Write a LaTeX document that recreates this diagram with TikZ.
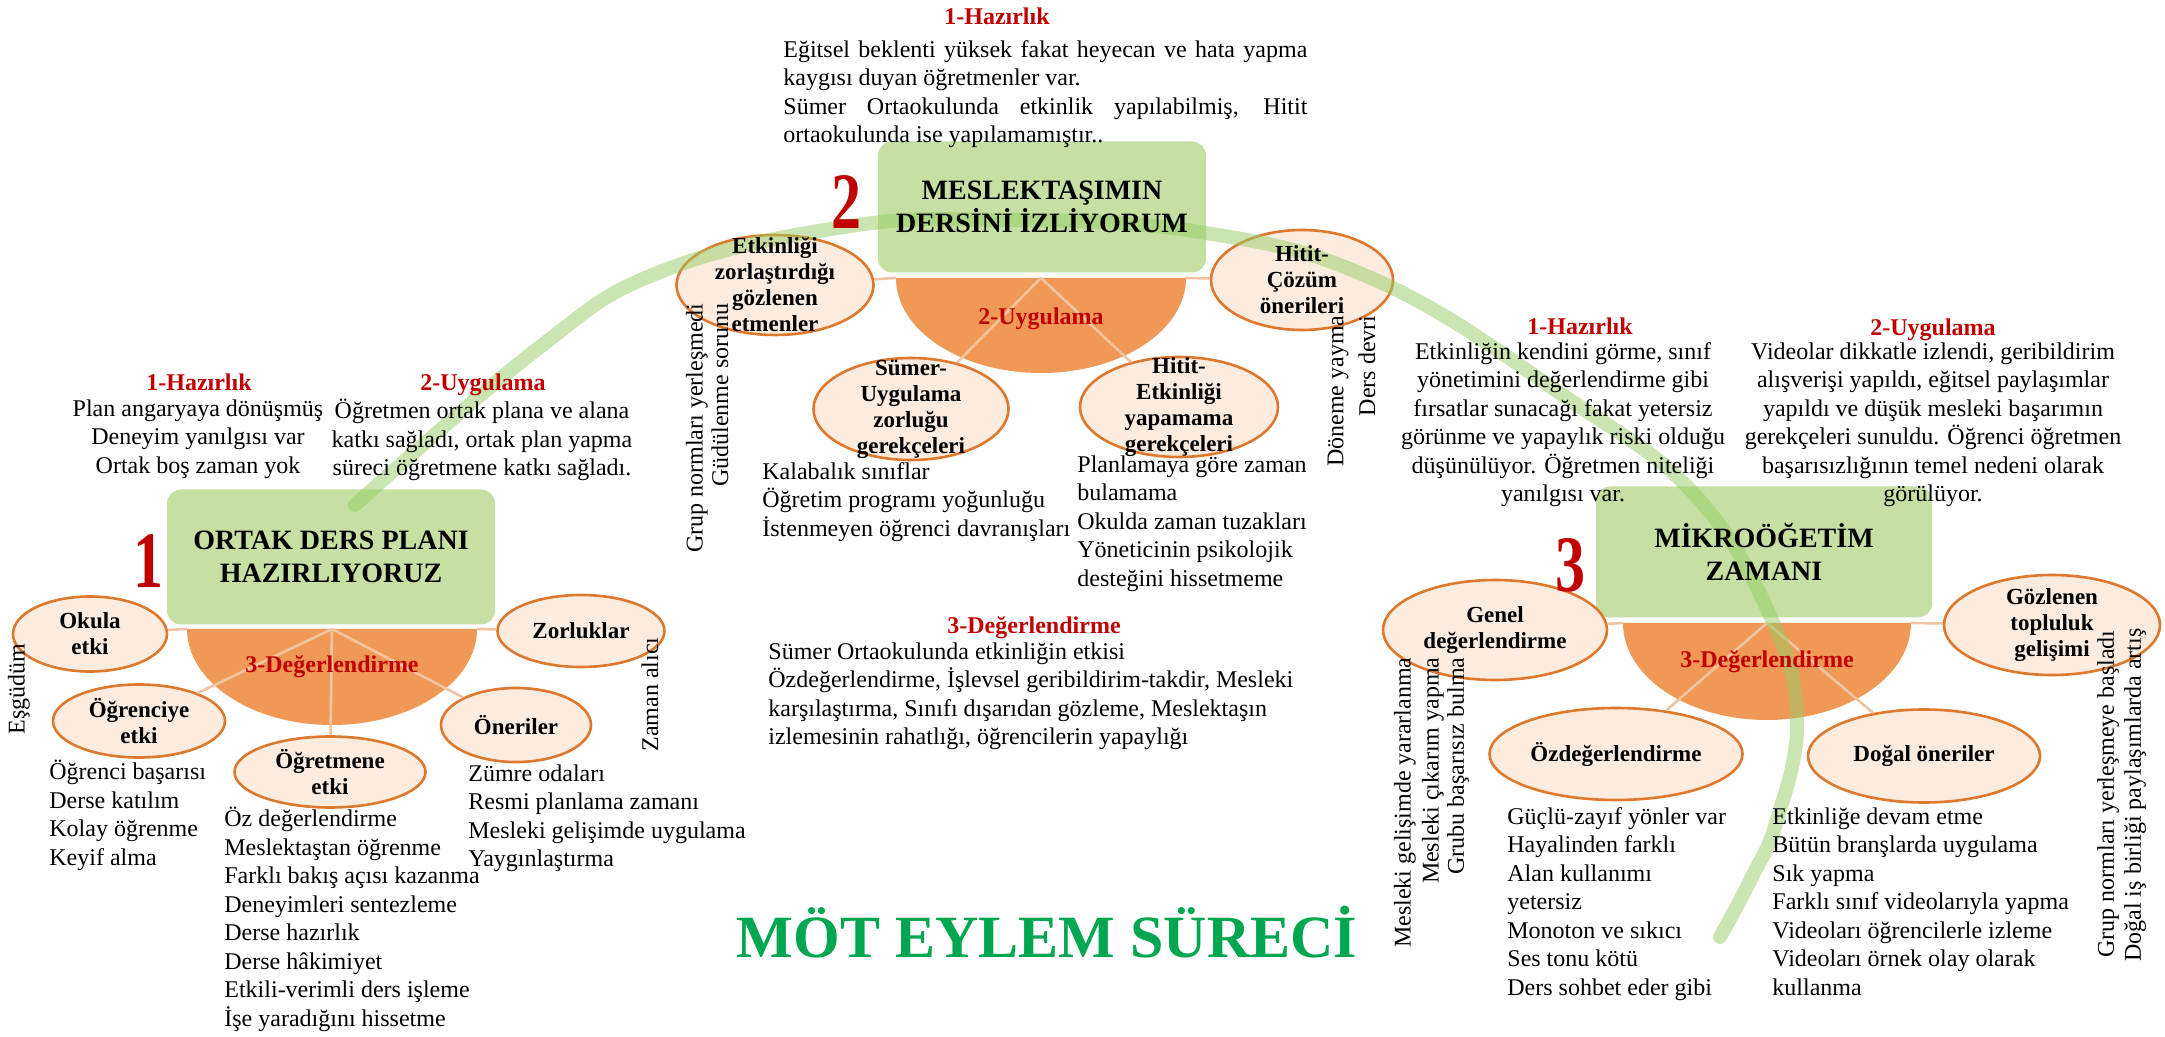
\documentclass[tikz,border=0pt]{standalone}
\usepackage{fontspec}
\setmainfont{Liberation Serif}
\usepackage{graphicx}
\usepackage{xcolor}
\usetikzlibrary{positioning,shapes.geometric}

\definecolor{boxgreen}{RGB}{198,224,164}
\definecolor{diskfill}{RGB}{240,152,86}
\definecolor{ovalfill}{RGB}{252,236,224}
\definecolor{ovalline}{RGB}{221,120,45}
\definecolor{spokecol}{RGB}{240,196,160}
\definecolor{hdrred}{RGB}{192,0,0}
\definecolor{titlegreen}{RGB}{0,166,80}
\definecolor{bandgreen}{RGB}{150,205,100}

\begin{document}
\begin{tikzpicture}[
  x=0.5pt, y=-0.5pt,
  stagebox/.style={fill=boxgreen, rounded corners=7pt, inner sep=0pt},
  boxtext/.style={font=\fontsize{14}{16.5}\selectfont\bfseries, align=center},
  stagenum/.style={text=hdrred, font=\fontsize{40}{40}\selectfont\bfseries, inner sep=0pt},
  oval/.style={ellipse, draw=ovalline, line width=1.3pt, fill=ovalfill, inner sep=0pt},
  ovaltext/.style={font=\fontsize{11.5}{13}\selectfont\bfseries, align=center, inner sep=0pt},
  spoke/.style={draw=spokecol, line width=1.3pt},
  hdr/.style={text=hdrred, font=\fontsize{12}{14}\selectfont\bfseries, anchor=base, inner sep=0pt},
  bodytext/.style={font=\fontsize{12}{14.25}\selectfont, inner sep=0pt, execute at begin node=\strut},
  leftlist/.style={bodytext, align=left, anchor=north west},
  midlist/.style={bodytext, align=center, anchor=north},
  sidenote/.style={font=\fontsize{12}{14}\selectfont, rotate=90, anchor=east, inner sep=0pt},
  band/.style={draw=bandgreen, line width=7pt, opacity=0.5, line cap=round}]
\fill[white] (0,0) rectangle (2165,1037);
\useasboundingbox (0,0) rectangle (2165,1037);

% --- stage 1 shapes
\node[stagebox, minimum width=164pt, minimum height=67.5pt] (plan) at (331,557) {};
\fill[diskfill] (187,629) arc[start angle=180, end angle=0, x radius=145, y radius=96] -- cycle;
\coordinate (d1top) at (332,629);
\coordinate (d1left) at (187,629);
\coordinate (d1right) at (477,629);
\node[oval, minimum width=77pt, minimum height=37.5pt] (okula) at (90,634) {};
\node[oval, minimum width=83.5pt, minimum height=36pt] (zorluk) at (581,631) {};
\node[oval, minimum width=86pt, minimum height=36.5pt] (ogrenciye) at (139,721) {};
\node[oval, minimum width=95.5pt, minimum height=35.5pt] (ogretmene) at (330,772) {};
\node[oval, minimum width=75pt, minimum height=37pt] (oneri) at (516,725) {};

% --- stage 2 shapes
\node[stagebox, minimum width=164pt, minimum height=65.5pt] (izle) at (1042,207) {};
\fill[diskfill] (896,278) arc[start angle=180, end angle=0, x radius=145, y radius=95] -- cycle;
\coordinate (d2top) at (1041,278);
\coordinate (d2left) at (896,278);
\coordinate (d2right) at (1186,278);
\node[oval, minimum width=98.5pt, minimum height=50pt] (etken) at (775,285) {};
\node[oval, minimum width=91pt, minimum height=50pt] (hcozum) at (1302,280) {};
\node[oval, minimum width=97.5pt, minimum height=51pt] (sumer) at (911,409) {};
\node[oval, minimum width=99pt, minimum height=50pt] (hitit) at (1179,407) {};

% --- stage 3 shapes
\node[stagebox, minimum width=168pt, minimum height=65.5pt] (mikro) at (1764,552) {};
\fill[diskfill] (1623,623) arc[start angle=180, end angle=0, x radius=144, y radius=97] -- cycle;
\coordinate (d3top) at (1767,623);
\coordinate (d3left) at (1623,623);
\coordinate (d3right) at (1911,623);
\node[oval, minimum width=112pt, minimum height=50pt] (genel) at (1495,630) {};
\node[oval, minimum width=108pt, minimum height=50pt] (gozlenen) at (2052,625) {};
\node[oval, minimum width=126.5pt, minimum height=46pt] (ozdeg) at (1616,754) {};
\node[oval, minimum width=116pt, minimum height=46.5pt] (dogal) at (1924,756) {};

% --- spokes
\draw[spoke] (d1left) -- (okula);
\draw[spoke] (d1right) -- (zorluk);
\draw[spoke] (d1top) -- (ogrenciye);
\draw[spoke] (d1top) -- (ogretmene);
\draw[spoke] (d1top) -- (oneri);
\draw[spoke] (d2left) -- (etken);
\draw[spoke] (d2right) -- (hcozum);
\draw[spoke] (d2top) -- (sumer);
\draw[spoke] (d2top) -- (hitit);
\draw[spoke] (d3left) -- (genel);
\draw[spoke] (d3right) -- (gozlenen);
\draw[spoke] (d3top) -- (ozdeg);
\draw[spoke] (d3top) -- (dogal);

% --- the process arc
\draw[band] plot[smooth, tension=0.7] coordinates {(355,505) (536,350) (660,272) (844,227) (1000,220) (1200,232) (1380,282) (1570,400) (1695,495) (1772,620) (1797,720) (1777,820) (1752,877) (1720,937)};

% --- stage 1 texts
\node[boxtext] at (plan) {ORTAK DERS PLANI\\HAZIRLIYORUZ};
\node[stagenum] (num1) at (148,561) {\scalebox{0.75}[1]{1}};
\node[hdr] at (332,673) {3-Değerlendirme};
\node[ovaltext] at (okula) {Okula\\etki};
\node[ovaltext] at (zorluk) {Zorluklar};
\node[ovaltext] at (ogrenciye) {Öğrenciye\\etki};
\node[ovaltext] at (ogretmene) {Öğretmene\\etki};
\node[ovaltext] at (oneri) {Öneriler};
\node[hdr] at (199,391) {1-Hazırlık};
\node[midlist] (hz1) at (198,399) {Plan angaryaya dönüşmüş\\Deneyim yanılgısı var\\Ortak boş zaman yok};
\node[hdr] at (483,391) {2-Uygulama};
\node[midlist] (uy1) at (482,399) {Öğretmen ortak plana ve alana\\katkı sağladı, ortak plan yapma\\süreci öğretmene katkı sağladı.};
\node[leftlist] (ogrlist) at (49,760) {Öğrenci başarısı\\Derse katılım\\Kolay öğrenme\\Keyif alma};
\node[leftlist] (ogtlist) at (224,807) {Öz değerlendirme\\Meslektaştan öğrenme\\Farklı bakış açısı kazanma\\Deneyimleri sentezleme\\Derse hazırlık\\Derse hâkimiyet\\Etkili-verimli ders işleme\\İşe yaradığını hissetme};
\node[leftlist] (onlist) at (468,764) {Zümre odaları\\Resmi planlama zamanı\\Mesleki gelişimde uygulama\\Yaygınlaştırma};
\node[sidenote] at (19,643) {Eşgüdüm};
\node[sidenote] at (650,637) {Zaman alıcı};

% --- stage 2 texts
\node[boxtext] at (izle) {MESLEKTAŞIMIN\\DERSİNİ İZLİYORUM};
\node[stagenum] (num2) at (846,202) {\scalebox{0.75}[1]{2}};
\node[hdr] at (1041,325) {2-Uygulama};
\node[ovaltext] at (etken) {Etkinliği\\zorlaştırdığı\\gözlenen\\etmenler};
\node[ovaltext] at (hcozum) {Hitit-\\Çözüm\\önerileri};
\node[ovaltext] at (sumer) {Sümer-\\Uygulama\\zorluğu\\gerekçeleri};
\node[ovaltext] at (hitit) {Hitit-\\Etkinliği\\yapamama\\gerekçeleri};
\node[hdr] at (997,25) {1-Hazırlık};
\node[bodytext, text width=262pt, align=justify, anchor=north west] (hz2) at (783,37) {Eğitsel beklenti yüksek fakat heyecan ve hata yapma\linebreak kaygısı duyan öğretmenler var.\\Sümer Ortaokulunda etkinlik yapılabilmiş, Hitit\linebreak ortaokulunda ise yapılamamıştır..};
\node[leftlist] (smlist) at (762,462) {Kalabalık sınıflar\\Öğretim programı yoğunluğu\\İstenmeyen öğrenci davranışları};
\node[leftlist] (htlist) at (1077,455) {Planlamaya göre zaman\\bulamama\\Okulda zaman tuzakları\\Yöneticinin psikolojik\\desteğini hissetmeme};
\node[hdr] at (1034,633) {3-Değerlendirme};
\node[leftlist] (de2) at (768,642) {Sümer Ortaokulunda etkinliğin etkisi\\Özdeğerlendirme, İşlevsel geribildirim-takdir, Mesleki\\karşılaştırma, Sınıfı dışarıdan gözleme, Meslektaşın\\izlemesinin rahatlığı, öğrencilerin yapaylığı};
\node[sidenote] at (697,303) {Grup normları yerleşmedi};
\node[sidenote] at (720,303) {Güdülenme sorunu};
\node[sidenote] at (1338,315) {Döneme yayma};
\node[sidenote] at (1367,315) {Ders devri};

% --- stage 3 texts
\node[boxtext] at (mikro) {MİKROÖĞETİM\\ZAMANI};
\node[stagenum] (num3) at (1570,565) {\scalebox{0.75}[1]{3}};
\node[hdr] at (1767,668) {3-Değerlendirme};
\node[ovaltext] at (genel) {Genel\\değerlendirme};
\node[ovaltext] at (gozlenen) {Gözlenen\\topluluk\\gelişimi};
\node[ovaltext] at (ozdeg) {Özdeğerlendirme};
\node[ovaltext] at (dogal) {Doğal öneriler};
\node[hdr] at (1580,335) {1-Hazırlık};
\node[midlist] (hz3) at (1563,342) {Etkinliğin kendini görme, sınıf\\yönetimini değerlendirme gibi\\fırsatlar sunacağı fakat yetersiz\\görünme ve yapaylık riski olduğu\\düşünülüyor. Öğretmen niteliği\\yanılgısı var.};
\node[hdr] at (1933,336) {2-Uygulama};
\node[midlist] (uy3) at (1933,342) {Videolar dikkatle izlendi, geribildirim\\alışverişi yapıldı, eğitsel paylaşımlar\\yapıldı ve düşük mesleki başarımın\\gerekçeleri sunuldu. Öğrenci öğretmen\\başarısızlığının temel nedeni olarak\\görülüyor.};
\node[leftlist] (ozlist) at (1507,807) {Güçlü-zayıf yönler var\\Hayalinden farklı\\Alan kullanımı\\yetersiz\\Monoton ve sıkıcı\\Ses tonu kötü\\Ders sohbet eder gibi};
\node[leftlist] (dglist) at (1772,807) {Etkinliğe devam etme\\Bütün branşlarda uygulama\\Sık yapma\\Farklı sınıf videolarıyla yapma\\Videoları öğrencilerle izleme\\Videoları örnek olay olarak\\kullanma};
\node[sidenote] at (1405,657) {Mesleki gelişimde yararlanma};
\node[sidenote] at (1433,657) {Mesleki çıkarım yapma};
\node[sidenote] at (1458,657) {Grubu başarısız bulma};
\node[sidenote] at (2108,630) {Grup normları yerleşmeye başladı};
\node[sidenote] at (2135,628) {Doğal iş birliği paylaşımlarda artış};

% --- title
\node[text=titlegreen, font=\fontsize{30}{30}\selectfont\bfseries] (title) at (1047,932) {MÖT EYLEM SÜRECİ};
\end{tikzpicture}
\end{document}
